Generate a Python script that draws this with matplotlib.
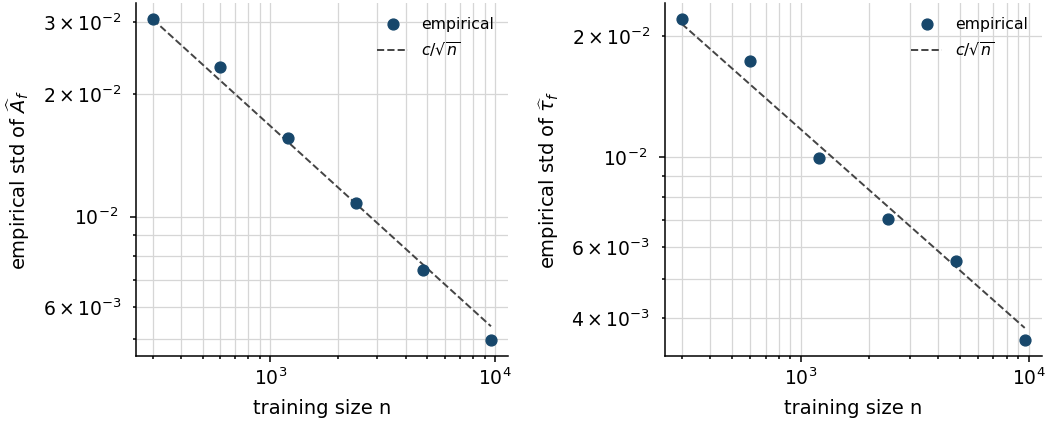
import matplotlib
matplotlib.use('Agg')
import matplotlib.pyplot as plt
import numpy as np

# training sizes and empirical std estimates
n_sizes = [300, 600, 1200, 2400, 4800, 9600]
std_A = [0.0305, 0.0232, 0.0156, 0.0108, 0.00738, 0.00498]
std_tau = [0.0220, 0.0173, 0.00997, 0.00705, 0.00553, 0.00353]

ylabels = [r"empirical std of $\widehat{A}_f$", r"empirical std of $\widehat{\tau}_f$"]

fig = plt.figure(figsize=(10.45, 4.25), dpi=100)
rects = [[0.130, 0.162, 0.356, 0.831], [0.636, 0.162, 0.361, 0.831]]

for rect, vals, lab in zip(rects, [std_A, std_tau], ylabels):
    ax = fig.add_axes(rect)
    n = np.array(n_sizes, dtype=float)
    y = np.array(vals)
    # fit constant for the 1/sqrt(n) reference line
    c = np.mean(y * np.sqrt(n))
    ax.plot(n, y, 'o', color='#17476b', markersize=7.8, label='empirical', zorder=3)
    ax.plot(n, c / np.sqrt(n), '--', color='#444444', lw=1.4, label=r'$c/\sqrt{n}$', zorder=2)
    ax.set_xscale('log')
    ax.set_yscale('log')
    ax.grid(True, which='both', color='#d6d6d6', lw=0.9)
    ax.set_axisbelow(True)
    ax.spines['top'].set_visible(False)
    ax.spines['right'].set_visible(False)
    for s in ['left', 'bottom']:
        ax.spines[s].set_linewidth(1.1)
    ax.tick_params(which='both', labelsize=13.5, width=1.1)
    ax.tick_params(which='major', length=4.5)
    ax.tick_params(axis='y', which='both', pad=8)
    ax.set_xlabel('training size n', fontsize=14, labelpad=7.5)
    ax.set_ylabel(lab, fontsize=14, labelpad=7.5)
    ax.legend(loc='upper right', frameon=False, fontsize=11.3)

fig.savefig('out.png')
